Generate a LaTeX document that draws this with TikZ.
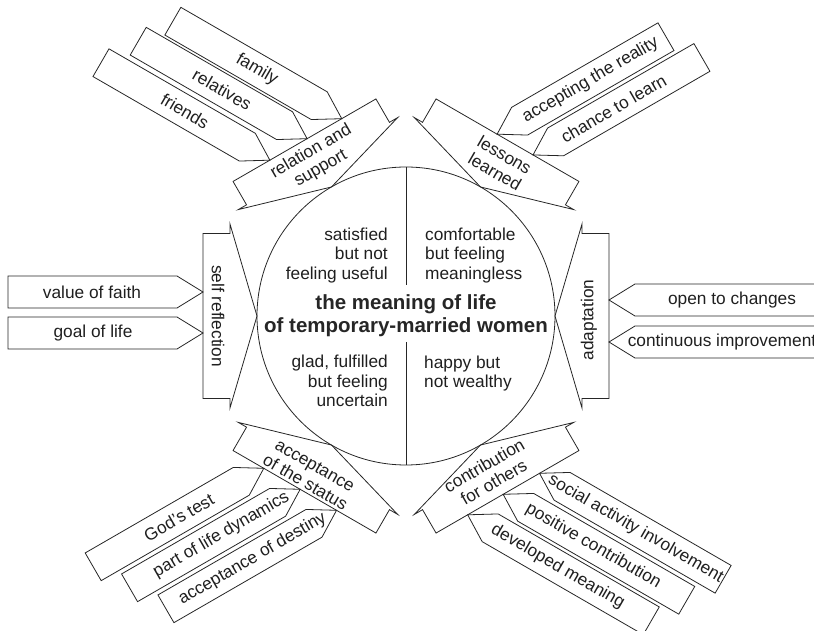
\documentclass[tikz,border=0pt]{standalone}
\usepackage{fontspec}
\setmainfont{Liberation Sans}
\usetikzlibrary{calc}
\tikzset{
  outl/.style={draw=black!85, line width=0.8pt, line join=miter},
  lbl/.style={font=\fontsize{17.3}{19.3}\selectfont, text=black!88, inner sep=0pt, align=center},
  ttl/.style={font=\fontsize{20.5}{22.7}\selectfont\bfseries, text=black!85, inner sep=0pt, align=center},
}
% main block arrow pointing to the hub, position angle #1
\newcommand{\hubarrow}[1]{\draw[outl,rotate=#1] (203,-82.5) -- (176,-82.5) -- (176,-92) -- (149,0) -- (176,92) -- (176,82.5) -- (203,82.5) -- cycle;}
% feeder: #1 phi, #2 tangential offset, #3 body angle, #4 length, #5 text centre, #6 text rotation, #7 name, #8 text
\newcommand{\feeder}[8]{%
  \begin{scope}[shift={($(#1:203)+(#1+90:#2)$)}, rotate=#3]
    \draw[outl] (0,0) -- (26,16) -- (#4,16) -- (#4,-16) -- (26,-16) -- cycle;
    \node[lbl, rotate=#6] (#7) at (#5,0) {#8};
  \end{scope}}
\begin{document}
\begin{tikzpicture}[x=1pt,y=1pt]
\useasboundingbox (-406,-315) rectangle (408,316);
% hub
\node[outl, circle, minimum size=298pt, inner sep=0pt, outer sep=0pt] (hub) at (0,0) {};
\coordinate (vtop) at (0,31);
\coordinate (vbot) at (0,-26);
\draw[outl] (hub.north) -- (vtop);
\draw[outl] (vbot) -- (hub.south);
\node[ttl] (title) at (0,0) {the meaning of life\\of temporary-married women};
\node[lbl, align=right, anchor=east] (q1) at (-18,60.5) {satisfied\\but not\\feeling useful};
\node[lbl, align=left, anchor=west] (q2) at (19,60.5) {comfortable\\but feeling\\meaningless};
\node[lbl, align=right, anchor=east] (q3) at (-18,-65) {glad, fulfilled\\but feeling\\uncertain};
\node[lbl, align=left, anchor=west] (q4) at (18,-57.4) {happy but\\not wealthy};
% main arrows
\hubarrow{180}
\hubarrow{0}
\hubarrow{120}
\hubarrow{60}
\hubarrow{240}
\hubarrow{300}
\node[lbl, rotate=-90] (selfref) at ($(180:188)+(270:0)$) {self reflection};
\node[lbl, rotate=90] (adapt) at ($(0:183)+(90:-4)$) {adaptation};
\node[lbl, rotate=30] (relsup) at ($(120:180)+(210:0)$) {relation and\\support};
\node[lbl, rotate=-30] (lessons) at ($(60:179)+(150:-5)$) {lessons\\learned};
\node[lbl, rotate=-30] (accstat) at ($(240:185)+(330:-4)$) {acceptance\\of the status};
\node[lbl, rotate=30] (contrib) at ($(300:178)+(30:-7)$) {contribution\\for others};
% feeders left
\feeder{180}{-24}{180}{195}{111}{0}{faith}{value of faith}
\feeder{180}{17}{180}{195}{110}{0}{goal}{goal of life}
% feeders right
\feeder{0}{16}{0}{260}{123}{0}{opench}{open to changes}
\feeder{0}{-26}{0}{260}{113}{0}{contimp}{continuous improvement}
% feeders top-left
\feeder{120}{-43}{150}{195}{98}{-30}{family}{family}
\feeder{120}{-3}{150}{195}{98}{-30}{relatives}{relatives}
\feeder{120}{40}{150}{195}{98}{-30}{friends}{friends}
% feeders top-right
\feeder{60}{12}{30}{195}{108}{30}{accreal}{accepting the reality}
\feeder{60}{-29.5}{30}{195}{93}{30}{chance}{chance to learn}
% feeders bottom-left
\feeder{240}{-47}{210}{197}{98}{30}{godtest}{God’s test}
\feeder{240}{-5}{210}{197}{91}{30}{lifedyn}{part of life dynamics}
\feeder{240}{37}{210}{197}{97}{30}{destiny}{acceptance of destiny}
% feeders bottom-right
\feeder{300}{37}{330}{212}{111}{-30}{social}{social activity involvement}
\feeder{300}{-5}{330}{212}{104}{-30}{poscon}{positive contribution}
\feeder{300}{-46}{330}{212}{104}{-30}{devmean}{developed meaning}
\end{tikzpicture}
\end{document}
